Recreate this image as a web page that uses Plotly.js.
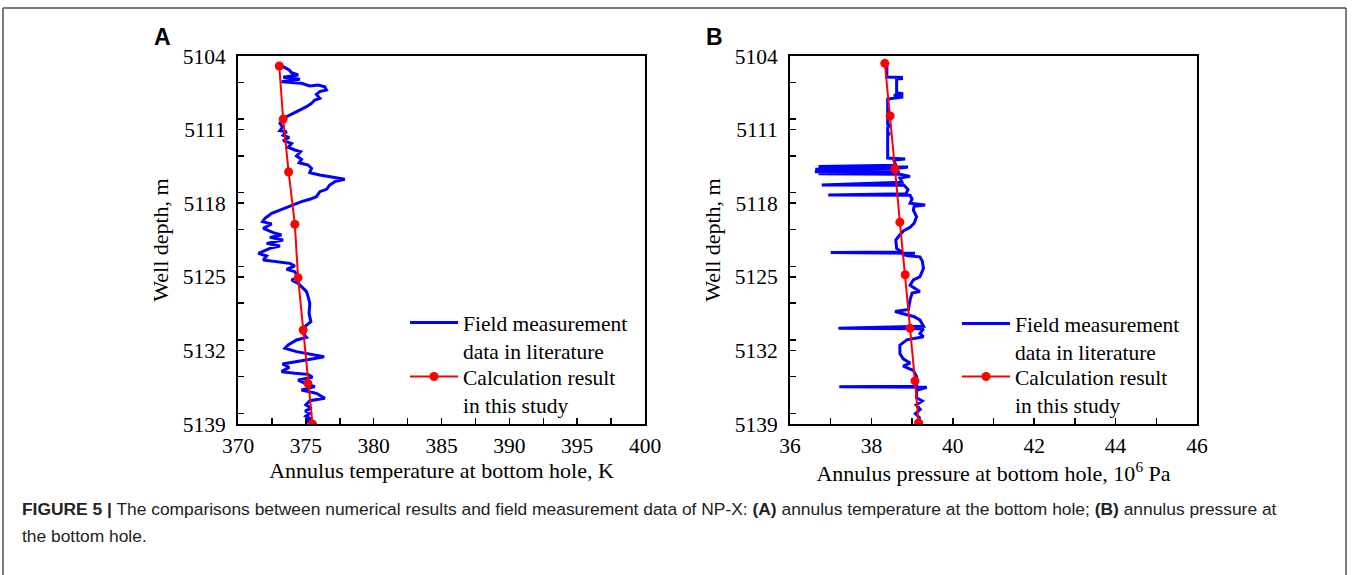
<!DOCTYPE html>
<html>
<head>
<meta charset="utf-8">
<script src="https://cdn.plot.ly/plotly-3.0.1.min.js"></script>
<style>html,body{margin:0;padding:0;background:#fff;}#chart{width:1354px;height:575px;}</style>
</head>
<body>
<div id="chart"></div>
<script>
// ---- Panel A: annulus temperature (K) ----
const fieldTempA = [373.04,373.33,373.77,373.95,374.44,373.33,374.56,373.21,374.68,375.29,375.91,376.40,376.52,376.03,375.78,376.03,375.66,375.42,375.05,374.68,374.31,373.95,373.58,373.33,373.09,373.28,373.09,373.58,373.33,373.77,373.33,373.95,373.70,374.19,374.61,374.31,374.68,374.51,375.17,375.42,375.29,376.03,376.89,377.87,377.13,376.76,376.52,376.03,375.78,375.29,374.68,374.19,373.70,373.09,372.48,371.99,371.81,372.48,371.86,372.60,373.21,372.35,373.33,372.11,373.09,372.35,371.50,372.11,371.86,372.84,373.82,374.19,373.58,374.19,374.43,373.95,374.43,374.68,375.05,375.17,375.29,375.24,375.37,374.93,374.81,375.05,374.31,373.70,373.46,374.31,375.29,376.35,375.54,374.19,373.28,373.77,373.21,374.19,375.17,375.49,374.43,374.93,375.66,374.68,375.78,376.40,375.29,375.00,375.42,374.95,375.30,375.00,375.34,375.05,375.30,375.17];
const fieldDepthA = [5104.95,5105.01,5105.33,5105.59,5105.81,5106.03,5106.22,5106.44,5106.60,5106.85,5106.76,5106.92,5107.23,5107.39,5107.65,5108.03,5108.18,5108.50,5108.82,5109.04,5109.29,5109.52,5109.77,5110.09,5110.40,5110.78,5111.10,5111.20,5111.55,5111.74,5112.05,5112.31,5112.69,5112.94,5113.10,5113.51,5113.83,5114.15,5114.37,5114.68,5115.10,5115.32,5115.48,5115.73,5115.95,5116.27,5116.68,5116.90,5117.38,5117.63,5117.85,5118.08,5118.33,5118.65,5118.96,5119.44,5119.76,5119.98,5120.39,5120.80,5121.02,5121.25,5121.50,5121.82,5122.07,5122.29,5122.77,5123.02,5123.40,5123.56,5123.72,5123.97,5124.29,5124.51,5125.08,5125.30,5125.62,5125.94,5126.41,5126.89,5127.52,5128.47,5129.27,5129.74,5130.38,5130.76,5131.01,5131.49,5131.80,5132.12,5132.34,5132.60,5132.79,5133.07,5133.29,5133.61,5134.02,5134.18,5134.28,5134.56,5134.82,5135.13,5135.45,5135.77,5136.08,5136.56,5136.78,5137.19,5137.50,5137.75,5138.00,5138.25,5138.50,5138.70,5138.85,5139.00];
const calcTempA = [373.04,373.33,373.73,374.19,374.43,374.80,375.15,375.49];
const calcDepthA = [5104.95,5110.0,5115.03,5120.0,5125.08,5130.06,5135.13,5139.0];

// ---- Panel B: annulus pressure (10^6 Pa) ----
const fieldPressB = [38.33,38.38,38.38,38.74,38.74,38.62,38.62,38.78,38.55,38.78,38.40,38.40,38.45,38.40,38.40,38.45,38.40,38.40,38.83,38.55,38.60,36.70,38.90,38.60,36.62,38.60,36.61,38.70,36.70,38.70,38.95,38.70,38.75,36.78,38.80,38.90,38.85,36.94,38.95,39.00,38.95,39.32,39.05,39.03,39.11,39.05,38.95,38.80,38.70,38.60,38.62,38.75,37.00,39.07,38.75,38.90,39.19,39.25,39.28,39.19,39.03,38.95,39.19,39.00,38.95,38.91,38.58,38.87,39.05,39.19,39.28,37.19,39.28,39.19,39.28,38.87,38.70,38.70,38.78,38.95,38.78,39.03,39.11,39.11,37.21,39.36,39.11,39.11,39.25,39.10,39.20,39.08,39.18,39.10];
const fieldDepthB = [5104.70,5105.00,5106.00,5106.05,5106.15,5106.20,5107.50,5107.60,5107.75,5107.90,5108.10,5110.50,5110.60,5110.80,5111.30,5111.40,5111.50,5113.70,5113.80,5113.90,5114.40,5114.50,5114.55,5114.70,5114.78,5114.85,5115.00,5115.05,5115.20,5115.25,5115.45,5115.60,5116.00,5116.27,5116.30,5116.70,5117.10,5117.22,5117.25,5117.60,5118.00,5118.17,5118.30,5118.65,5119.30,5119.90,5120.30,5120.60,5121.00,5121.50,5122.30,5122.65,5122.70,5122.75,5122.85,5123.00,5123.10,5123.50,5124.20,5125.00,5125.30,5125.80,5126.40,5126.55,5127.20,5128.10,5128.30,5128.60,5128.80,5129.10,5129.70,5129.90,5129.95,5130.40,5130.70,5131.00,5131.50,5132.30,5132.80,5133.20,5133.50,5133.90,5134.50,5135.40,5135.45,5135.50,5135.80,5136.50,5136.80,5137.20,5137.60,5138.00,5138.40,5138.90];
const calcPressB = [38.33,38.46,38.58,38.70,38.83,38.95,39.07,39.16];
const calcDepthB = [5104.7,5109.7,5114.75,5119.8,5124.8,5129.9,5134.9,5138.9];

// ---- Labels ----
const legendField = 'Field measurement<br>data in literature';
const legendCalc = 'Calculation result<br>in this study';
const xTitleA = 'Annulus temperature at bottom hole, K';
const xTitleB = 'Annulus pressure at bottom hole, 10<sup>6</sup> Pa';
const yTitle = 'Well depth, m';
const panelLabels = ['A', 'B'];
const captionLine1 = '<b>FIGURE 5 |</b> The comparisons between numerical results and field measurement data of NP-X: <b>(A)</b> annulus temperature at the bottom hole; <b>(B)</b> annulus pressure at';
const captionLine2 = 'the bottom hole.';

const W = 1354, H = 575;
const px = v => v / W;
const py = v => 1 - v / H;

const blue = '#0000ff', red = '#ff0000';
const traces = [
  {x: fieldTempA, y: fieldDepthA, xaxis: 'x', yaxis: 'y', mode: 'lines', name: legendField,
   line: {color: blue, width: 3}, legend: 'legend'},
  {x: calcTempA, y: calcDepthA, xaxis: 'x', yaxis: 'y', mode: 'lines+markers', name: legendCalc,
   line: {color: red, width: 2}, marker: {color: red, size: 9}, legend: 'legend3'},
  {x: fieldPressB, y: fieldDepthB, xaxis: 'x2', yaxis: 'y2', mode: 'lines', name: legendField,
   line: {color: blue, width: 3}, legend: 'legend2'},
  {x: calcPressB, y: calcDepthB, xaxis: 'x2', yaxis: 'y2', mode: 'lines+markers', name: legendCalc,
   line: {color: red, width: 2}, marker: {color: red, size: 9}, legend: 'legend4'}
];

const serif = 'Liberation Serif, Times New Roman, serif';
const sans = 'Liberation Sans, Arial, sans-serif';
const axisCommon = {
  showline: true, linecolor: '#000', linewidth: 2, mirror: true,
  ticks: 'inside', ticklen: 6, tickwidth: 1.5, tickcolor: '#000',
  showgrid: false, zeroline: false, automargin: false,
  tickfont: {family: serif, size: 21.5, color: '#000'}
};
const minorCommon = {ticks: 'inside', ticklen: 6, tickwidth: 1.5, tickcolor: '#000', showgrid: false};
const titleFont = {family: serif, size: 22, color: '#000'};
const yDomain = [1 - 424 / H, 1 - 56 / H];

const legendCommon = {
  xanchor: 'left', yanchor: 'top', bgcolor: 'rgba(0,0,0,0)', borderwidth: 0,
  font: {family: serif, size: 21.5, color: '#000'}, itemwidth: 48, valign: 'top',
  tracegroupgap: 0, itemclick: false
};

const layout = {
  width: W, height: H,
  margin: {l: 0, r: 0, t: 0, b: 0},
  paper_bgcolor: '#fff', plot_bgcolor: '#fff',
  font: {family: serif, size: 20, color: '#000'},
  xaxis: Object.assign({}, axisCommon, {
    domain: [px(238), px(645)], range: [370, 400], tick0: 370, dtick: 5, anchor: 'y',
    ticklabelstandoff: 1,
    minor: Object.assign({dtick: 2.5}, minorCommon),
    title: {text: xTitleA, standoff: 3, font: titleFont}
  }),
  yaxis: Object.assign({}, axisCommon, {
    domain: yDomain, range: [5139, 5104], tick0: 5104, dtick: 7, anchor: 'x',
    ticklabelstandoff: 6,
    minor: Object.assign({dtick: 3.5}, minorCommon),
    title: {text: yTitle, standoff: 8, font: titleFont}
  }),
  xaxis2: Object.assign({}, axisCommon, {
    domain: [px(790), px(1197)], range: [36, 46], tick0: 36, dtick: 2, anchor: 'y2',
    ticklabelstandoff: 1,
    minor: Object.assign({dtick: 1}, minorCommon),
    title: {text: xTitleB, standoff: 3, font: titleFont}
  }),
  yaxis2: Object.assign({}, axisCommon, {
    domain: yDomain, range: [5139, 5104], tick0: 5104, dtick: 7, anchor: 'x2',
    ticklabelstandoff: 6,
    minor: Object.assign({dtick: 3.5}, minorCommon),
    title: {text: yTitle, standoff: 8, font: titleFont}
  }),
  legend: Object.assign({}, legendCommon, {x: px(405), y: py(302)}),
  legend3: Object.assign({}, legendCommon, {x: px(405), y: py(356)}),
  legend2: Object.assign({}, legendCommon, {x: px(957), y: py(303)}),
  legend4: Object.assign({}, legendCommon, {x: px(957), y: py(356)}),
  showlegend: true,
  annotations: [
    {text: '<b>' + panelLabels[0] + '</b>', xref: 'paper', yref: 'paper', x: px(162), y: py(37),
     xanchor: 'center', yanchor: 'middle', showarrow: false,
     font: {family: sans, size: 23, color: '#000'}},
    {text: '<b>' + panelLabels[1] + '</b>', xref: 'paper', yref: 'paper', x: px(714), y: py(37),
     xanchor: 'center', yanchor: 'middle', showarrow: false,
     font: {family: sans, size: 23, color: '#000'}},
    {text: captionLine1, xref: 'paper', yref: 'paper', x: px(20), y: py(509),
     xanchor: 'left', yanchor: 'middle', align: 'left', showarrow: false,
     font: {family: sans, size: 17.4, color: '#222'}},
    {text: captionLine2, xref: 'paper', yref: 'paper', x: px(20), y: py(536),
     xanchor: 'left', yanchor: 'middle', align: 'left', showarrow: false,
     font: {family: sans, size: 17.4, color: '#222'}}
  ],
  shapes: [
    {type: 'line', xref: 'paper', yref: 'paper', x0: px(3), x1: px(1346), y0: py(8), y1: py(8),
     line: {color: '#505050', width: 1.5}},
    {type: 'line', xref: 'paper', yref: 'paper', x0: px(3), x1: px(3), y0: py(8), y1: 0,
     line: {color: '#505050', width: 1.5}},
    {type: 'line', xref: 'paper', yref: 'paper', x0: px(1346), x1: px(1346), y0: py(8), y1: 0,
     line: {color: '#505050', width: 1.5}}
  ]
};

Plotly.newPlot('chart', traces, layout, {displayModeBar: false, staticPlot: true});
</script>
</body>
</html>
